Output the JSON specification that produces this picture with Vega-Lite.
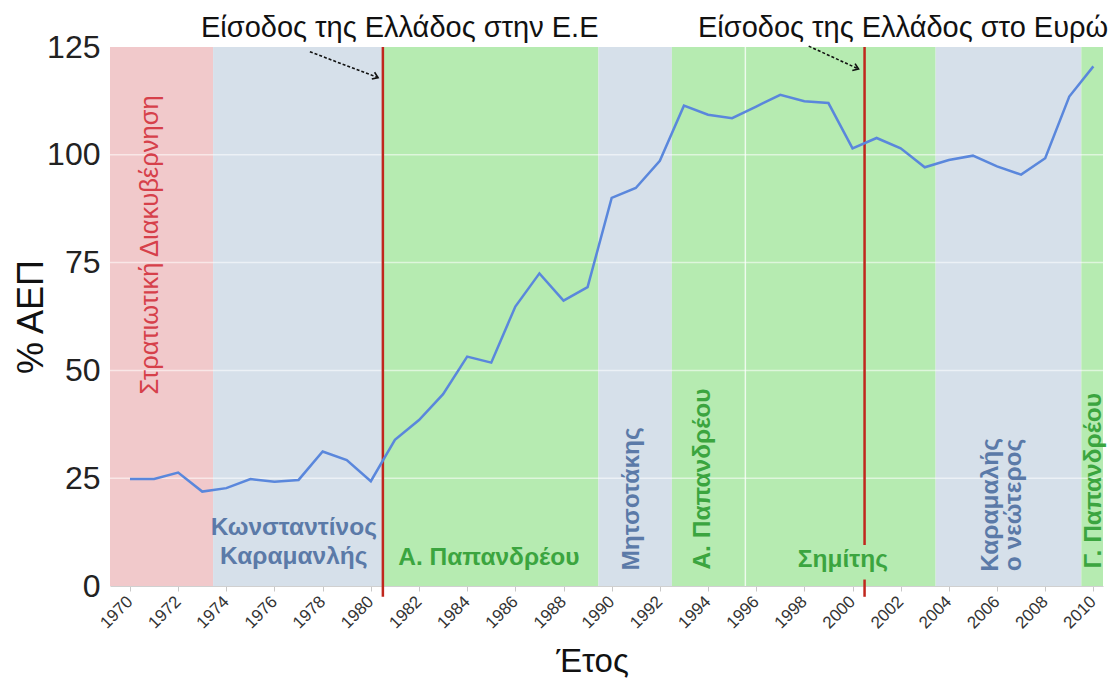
{
  "$schema": "https://vega.github.io/schema/vega-lite/v6.json",
  "width": 993,
  "height": 539,
  "autosize": {"type": "none"},
  "padding": {"left": 110, "top": 47, "right": 14, "bottom": 105},
  "background": "white",
  "config": {
    "view": {"stroke": null},
    "font": "Liberation Sans, sans-serif"
  },
  "datasets": {
    "debt": [
      {"year": 1970, "v": 24.8}, {"year": 1971, "v": 24.8}, {"year": 1972, "v": 26.3},
      {"year": 1973, "v": 21.9}, {"year": 1974, "v": 22.7}, {"year": 1975, "v": 24.8},
      {"year": 1976, "v": 24.2}, {"year": 1977, "v": 24.6}, {"year": 1978, "v": 31.2},
      {"year": 1979, "v": 29.2}, {"year": 1980, "v": 24.3}, {"year": 1981, "v": 33.9},
      {"year": 1982, "v": 38.5}, {"year": 1983, "v": 44.5}, {"year": 1984, "v": 53.2},
      {"year": 1985, "v": 51.8}, {"year": 1986, "v": 64.8}, {"year": 1987, "v": 72.5},
      {"year": 1988, "v": 66.2}, {"year": 1989, "v": 69.3}, {"year": 1990, "v": 90.0},
      {"year": 1991, "v": 92.3}, {"year": 1992, "v": 98.6}, {"year": 1993, "v": 111.4},
      {"year": 1994, "v": 109.3}, {"year": 1995, "v": 108.5}, {"year": 1996, "v": 111.2},
      {"year": 1997, "v": 113.9}, {"year": 1998, "v": 112.4}, {"year": 1999, "v": 112.0},
      {"year": 2000, "v": 101.5}, {"year": 2001, "v": 103.9}, {"year": 2002, "v": 101.5},
      {"year": 2003, "v": 97.1}, {"year": 2004, "v": 98.8}, {"year": 2005, "v": 99.8},
      {"year": 2006, "v": 97.3}, {"year": 2007, "v": 95.4}, {"year": 2008, "v": 99.2},
      {"year": 2009, "v": 113.5}, {"year": 2010, "v": 120.5}
    ],
    "bands": [
      {"start": 1969.17, "end": 1973.45, "regime": "junta"},
      {"start": 1973.45, "end": 1980.5, "regime": "nd"},
      {"start": 1980.5, "end": 1989.45, "regime": "pasok"},
      {"start": 1989.45, "end": 1992.5, "regime": "nd"},
      {"start": 1992.5, "end": 1995.55, "regime": "pasok"},
      {"start": 1995.55, "end": 2003.45, "regime": "pasok"},
      {"start": 2003.45, "end": 2009.5, "regime": "nd"},
      {"start": 2009.5, "end": 2010.4, "regime": "pasok"}
    ]
  },
  "layer": [
    {
      "data": {"name": "bands"},
      "mark": {"type": "rect"},
      "encoding": {
        "x": {"field": "start", "type": "quantitative",
          "scale": {"domain": [1969.17, 2010.4], "nice": false, "zero": false},
          "axis": {
            "title": "Έτος",
            "titleFontSize": 33, "titleFontWeight": "normal", "titleColor": "#111",
            "titlePadding": 14, "titleX": 482,
            "values": [1970,1971,1972,1973,1974,1975,1976,1977,1978,1979,1980,1981,1982,1983,1984,1985,1986,1987,1988,1989,1990,1991,1992,1993,1994,1995,1996,1997,1998,1999,2000,2001,2002,2003,2004,2005,2006,2007,2008,2009,2010],
            "labelExpr": "datum.value % 2 == 0 ? datum.label : ''",
            "format": "d",
            "labelAngle": -45, "labelFontSize": 17, "labelColor": "#333",
            "labelOffset": -6, "labelPadding": 2,
            "tickColor": "#c8c8c8", "tickSize": 5,
            "domainColor": "#d0d0d0", "grid": false
          }
        },
        "x2": {"field": "end"},
        "fill": {"field": "regime", "type": "nominal",
          "scale": {"domain": ["junta", "nd", "pasok"], "range": ["#f1c9cb", "#d6e0ea", "#b6ebb1"]},
          "legend": null}
      }
    },
    {
      "data": {"values": [{"year": 1995.55}]},
      "mark": {"type": "rule", "color": "white", "strokeWidth": 1.5, "opacity": 0.7},
      "encoding": {"x": {"field": "year", "type": "quantitative"}}
    },
    {
      "data": {"values": [{"v": 25}, {"v": 50}, {"v": 75}, {"v": 100}]},
      "mark": {"type": "rule", "color": "white", "strokeWidth": 1.5, "opacity": 0.55},
      "encoding": {
        "y": {"field": "v", "type": "quantitative",
          "scale": {"domain": [0, 125], "nice": false},
          "axis": {
            "title": "% ΑΕΠ", "titleFontSize": 36, "titleFontWeight": "normal", "titleColor": "#111",
            "titlePadding": -4,
            "values": [0, 25, 50, 75, 100, 125],
            "labelFontSize": 32, "labelColor": "#222", "labelPadding": 10,
            "ticks": false, "domain": false, "grid": false
          }
        }
      }
    },
    {
      "data": {"values": [
        {"year": 1980.5, "top": 125, "bottom": -2.5},
        {"year": 2000.5, "top": 125, "bottom": 9.5},
        {"year": 2000.5, "top": 1.5, "bottom": -2.5}
      ]},
      "mark": {"type": "rule", "color": "#c0271d", "strokeWidth": 2.5},
      "encoding": {
        "x": {"field": "year", "type": "quantitative"},
        "y": {"field": "top", "type": "quantitative"},
        "y2": {"field": "bottom"}
      }
    },
    {
      "data": {"name": "debt"},
      "mark": {"type": "line", "color": "#5a87dc", "strokeWidth": 2.5},
      "encoding": {
        "x": {"field": "year", "type": "quantitative"},
        "y": {"field": "v", "type": "quantitative"}
      }
    },
    {
      "data": {"values": [
        {"text": "Κωνσταντίνος", "year": 1976.8, "v": 11.8, "g": "nd"},
        {"text": "Καραμανλής", "year": 1976.8, "v": 5.0, "g": "nd"},
        {"text": "Α. Παπανδρέου", "year": 1984.9, "v": 4.9, "g": "pasok"},
        {"text": "Σημίτης", "year": 1999.6, "v": 4.4, "g": "pasok"}
      ]},
      "mark": {"type": "text", "fontSize": 24.5, "fontWeight": "bold", "align": "center", "baseline": "alphabetic"},
      "encoding": {
        "x": {"field": "year", "type": "quantitative"},
        "y": {"field": "v", "type": "quantitative"},
        "text": {"field": "text"},
        "color": {"field": "g", "type": "nominal",
          "scale": {"domain": ["junta", "nd", "pasok"], "range": ["#d6404a", "#5b7aa8", "#3ba53f"]},
          "legend": null}
      }
    },
    {
      "data": {"values": [
        {"text": "Μητσοτάκης", "year": 1990.85, "v": 20.2, "g": "nd"},
        {"text": "Α. Παπανδρέου", "year": 1993.8, "v": 24.8, "g": "pasok"},
        {"text": "Καραμαλής", "year": 2005.75, "v": 18.8, "g": "nd"},
        {"text": "ο νεώτερος", "year": 2006.7, "v": 18.8, "g": "nd"},
        {"text": "Γ. Παπανδρέου", "year": 2010.03, "v": 24.4, "g": "pasok"}
      ]},
      "mark": {"type": "text", "fontSize": 24.5, "fontWeight": "bold", "align": "center", "baseline": "middle", "angle": 270},
      "encoding": {
        "x": {"field": "year", "type": "quantitative"},
        "y": {"field": "v", "type": "quantitative"},
        "text": {"field": "text"},
        "color": {"field": "g", "type": "nominal", "legend": null}
      }
    },
    {
      "data": {"values": [
        {"text": "Στρατιωτική Διακυβέρνηση", "year": 1970.83, "v": 79.1, "g": "junta"}
      ]},
      "mark": {"type": "text", "fontSize": 25.5, "fontWeight": "normal", "align": "center", "baseline": "middle", "angle": 270},
      "encoding": {
        "x": {"field": "year", "type": "quantitative"},
        "y": {"field": "v", "type": "quantitative"},
        "text": {"field": "text"},
        "color": {"field": "g", "type": "nominal", "legend": null}
      }
    },
    {
      "data": {"values": [
        {"text": "Είσοδος της Ελλάδος στην Ε.Ε", "year": 1981.2, "v": 127.4},
        {"text": "Είσοδος της Ελλάδος στο Ευρώ", "year": 2002.1, "v": 127.4}
      ]},
      "mark": {"type": "text", "fontSize": 29, "color": "#111", "align": "center", "baseline": "alphabetic"},
      "encoding": {
        "x": {"field": "year", "type": "quantitative"},
        "y": {"field": "v", "type": "quantitative"},
        "text": {"field": "text"}
      }
    },
    {
      "data": {"values": [
        {"x1": 1977.47, "y1": 123.9, "x2": 1980.3, "y2": 117.9},
        {"x1": 1998.18, "y1": 125.2, "x2": 2000.25, "y2": 119.9}
      ]},
      "mark": {"type": "rule", "color": "#111", "strokeWidth": 1.6, "strokeDash": [3, 2]},
      "encoding": {
        "x": {"field": "x1", "type": "quantitative"},
        "y": {"field": "y1", "type": "quantitative"},
        "x2": {"field": "x2"},
        "y2": {"field": "y2"}
      }
    },
    {
      "data": {"values": [
        {"x2": 1980.3, "y2": 117.9},
        {"x2": 2000.25, "y2": 119.9}
      ]},
      "mark": {"type": "point", "shape": "M-1,-0.7L0,0L-1,0.7", "filled": false, "stroke": "#111", "strokeWidth": 1.6, "size": 110, "angle": 22, "opacity": 1},
      "encoding": {
        "x": {"field": "x2", "type": "quantitative"},
        "y": {"field": "y2", "type": "quantitative"}
      }
    }
  ]
}
